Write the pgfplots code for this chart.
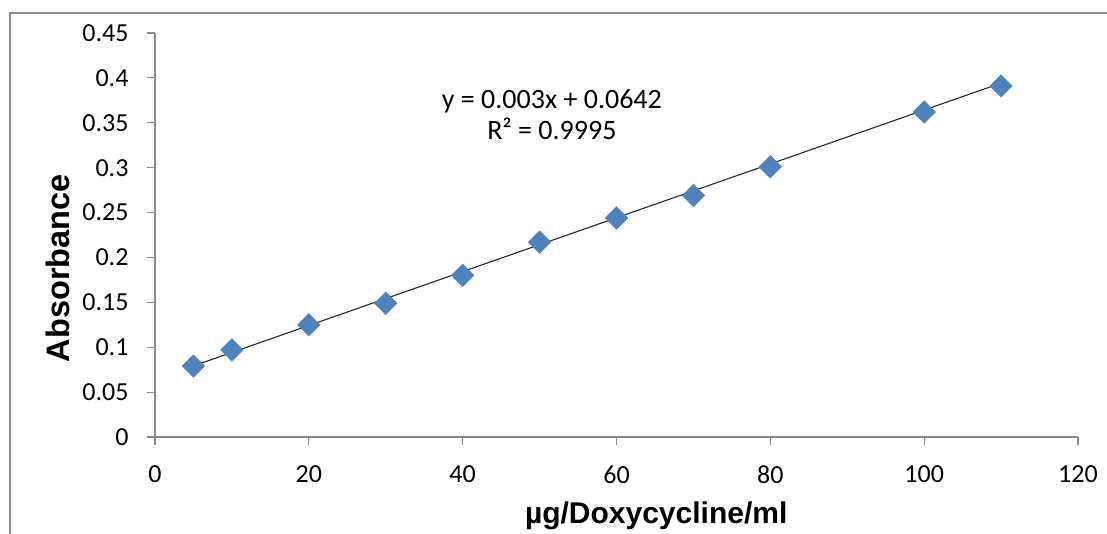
\documentclass[border=0pt]{standalone}
\usepackage{pgfplots}
\pgfplotsset{compat=1.18}
\usepackage{fontspec}
\setmainfont{Carlito}
\newfontfamily\labelfont{Liberation Sans}
\definecolor{markblue}{HTML}{4F81BD}
\definecolor{axgray}{HTML}{898989}
\definecolor{framegray}{HTML}{8C8C8C}
\begin{document}
\begin{tikzpicture}[x=1pt,y=1pt]
\useasboundingbox (0,0) rectangle (1107,533);
\draw[framegray, line width=2.2pt] (10,-2) -- (10,520) -- (1110,520);
\begin{axis}[
  at={(155pt,96pt)}, anchor=south west,
  scale only axis, width=923pt, height=404pt,
  xmin=0, xmax=120, ymin=0, ymax=0.45,
  axis lines*=left,
  axis line style={axgray, line width=1.2pt},
  tick style={axgray, line width=1.2pt},
  tick align=outside, major tick length=8pt,
  xtick={0,20,40,60,80,100,120},
  ytick={0,0.05,0.1,0.15,0.2,0.25,0.3,0.35,0.4,0.45},
  yticklabels={0,0.05,0.1,0.15,0.2,0.25,0.3,0.35,0.4,0.45},
  tick label style={font=\fontsize{26}{30}\selectfont, text=black},
  /pgf/number format/assume math mode=true,
  yticklabel style={xshift=-15pt},
  xticklabel style={yshift=-17pt},
  xlabel={\labelfont\bfseries µg/Doxycycline/ml},
  ylabel={\labelfont\bfseries Absorbance},
  x label style={font=\fontsize{30}{34}\selectfont, at={(axis description cs:0.543,-0.213)}, anchor=base},
  y label style={font=\fontsize{32.5}{36}\selectfont, at={(axis description cs:-0.105,0.418)}, anchor=center},
  clip=false,
]
\addplot[only marks, mark=square*, mark size=8pt, mark options={rotate=45, fill=markblue, draw=markblue}]
  coordinates {(5,0.079) (10,0.097) (20,0.125) (30,0.149) (40,0.180) (50,0.217) (60,0.244) (70,0.269) (80,0.301) (100,0.362) (110,0.391)};
\addplot[black!85, line width=1.1pt] coordinates {(5,0.0792) (110,0.3942)};
\node[align=center, font=\fontsize{28}{31}\selectfont, text=black] at (axis cs:51.6,0.3595) {y = 0.003x + 0.0642\\R² = 0.9995};
\end{axis}
\end{tikzpicture}
\end{document}
